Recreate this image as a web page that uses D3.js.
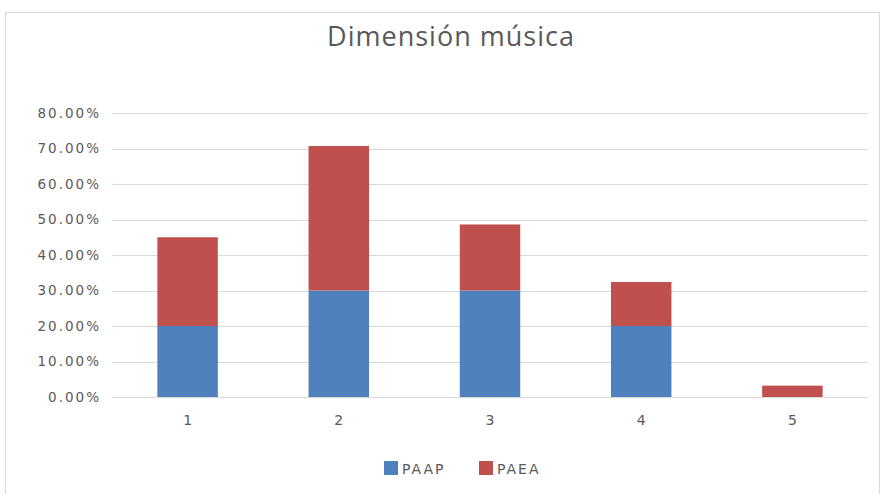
<!DOCTYPE html>
<html>
<head>
<meta charset="utf-8">
<script src="https://cdn.jsdelivr.net/npm/d3@7"></script>
<style>
  body { margin: 0; background: #ffffff; }
  svg { display: block; font-family: "DejaVu Sans", "Open Sans", sans-serif; }
</style>
</head>
<body>
<svg id="chart" width="880" height="494"></svg>
<script>
// Dimensión música: stacked share per level
const categories = ["1", "2", "3", "4", "5"];
const paap = [0.20, 0.30, 0.30, 0.20, 0.00];
const paea = [0.25, 0.407, 0.186, 0.124, 0.032];
const yTicks = [0, 0.1, 0.2, 0.3, 0.4, 0.5, 0.6, 0.7, 0.8];
const seriesNames = ["PAAP", "PAEA"];
const colors = { PAAP: "#4F81BD", PAEA: "#C0504D" };

const svg = d3.select("#chart");
const W = 880, H = 494;

// chart frame
svg.append("rect")
  .attr("x", 5.5).attr("y", 12.5)
  .attr("width", W - 6).attr("height", H - 10)
  .attr("fill", "#ffffff").attr("stroke", "#d9d9d9");

const margin = { left: 112, right: 12, top: 113, bottom: 97 };
const x = d3.scaleBand().domain(categories)
  .range([margin.left, W - margin.right]).paddingInner(0.6).paddingOuter(0.3);
const y = d3.scaleLinear().domain([0, 0.8]).range([H - margin.bottom, margin.top]);

// horizontal gridlines
svg.append("g").selectAll("line").data(yTicks).join("line")
  .attr("x1", margin.left).attr("x2", W - margin.right)
  .attr("y1", d => Math.round(y(d)) + 0.5).attr("y2", d => Math.round(y(d)) + 0.5)
  .attr("stroke", "#d9d9d9").attr("stroke-width", 1);

// y axis labels
const yAxis = d3.axisLeft(y).tickValues(yTicks)
  .tickFormat(d => (d * 100).toFixed(2) + "%").tickSize(0).tickPadding(11);
const yg = svg.append("g").attr("transform", `translate(${margin.left},0)`).call(yAxis);
yg.select(".domain").remove();
yg.selectAll("text").attr("fill", "#595959")
  .style("font-size", "13.5px").style("letter-spacing", "2px")
  .style("font-family", "DejaVu Sans");

// stacked bars
const rows = categories.map((c, i) => ({ cat: c, PAAP: paap[i], PAEA: paea[i] }));
const stacked = d3.stack().keys(seriesNames)(rows);
svg.append("g").selectAll("g").data(stacked).join("g")
  .attr("fill", d => colors[d.key])
  .selectAll("rect").data(d => d).join("rect")
  .attr("x", d => x(d.data.cat))
  .attr("width", x.bandwidth())
  .attr("y", d => y(d[1]))
  .attr("height", d => Math.max(0, y(d[0]) - y(d[1])));

// x axis line and labels
svg.append("line")
  .attr("x1", margin.left).attr("x2", W - margin.right)
  .attr("y1", Math.round(y(0)) + 0.5).attr("y2", Math.round(y(0)) + 0.5)
  .attr("stroke", "#d9d9d9");
const xAxis = d3.axisBottom(x).tickSize(0).tickPadding(18);
const xg = svg.append("g").attr("transform", `translate(0,${y(0)})`).call(xAxis);
xg.select(".domain").remove();
xg.selectAll("text").attr("fill", "#595959")
  .style("font-size", "14px").style("font-family", "DejaVu Sans");

// title
svg.append("text")
  .attr("x", 451).attr("y", 46)
  .attr("text-anchor", "middle")
  .attr("fill", "#595959")
  .style("font-family", "Open Sans")
  .style("font-size", "27px")
  .style("letter-spacing", "1px")
  .text("Dimensión música");

// legend
const legend = svg.append("g").attr("transform", "translate(384,461)");
const items = legend.selectAll("g").data(seriesNames).join("g")
  .attr("transform", (d, i) => `translate(${i * 95},0)`);
items.append("rect").attr("width", 14).attr("height", 14).attr("fill", d => colors[d]);
items.append("text").attr("x", 18).attr("y", 12.5)
  .attr("fill", "#595959")
  .style("font-size", "14px").style("letter-spacing", "2px")
  .text(d => d);
</script>
</body>
</html>
